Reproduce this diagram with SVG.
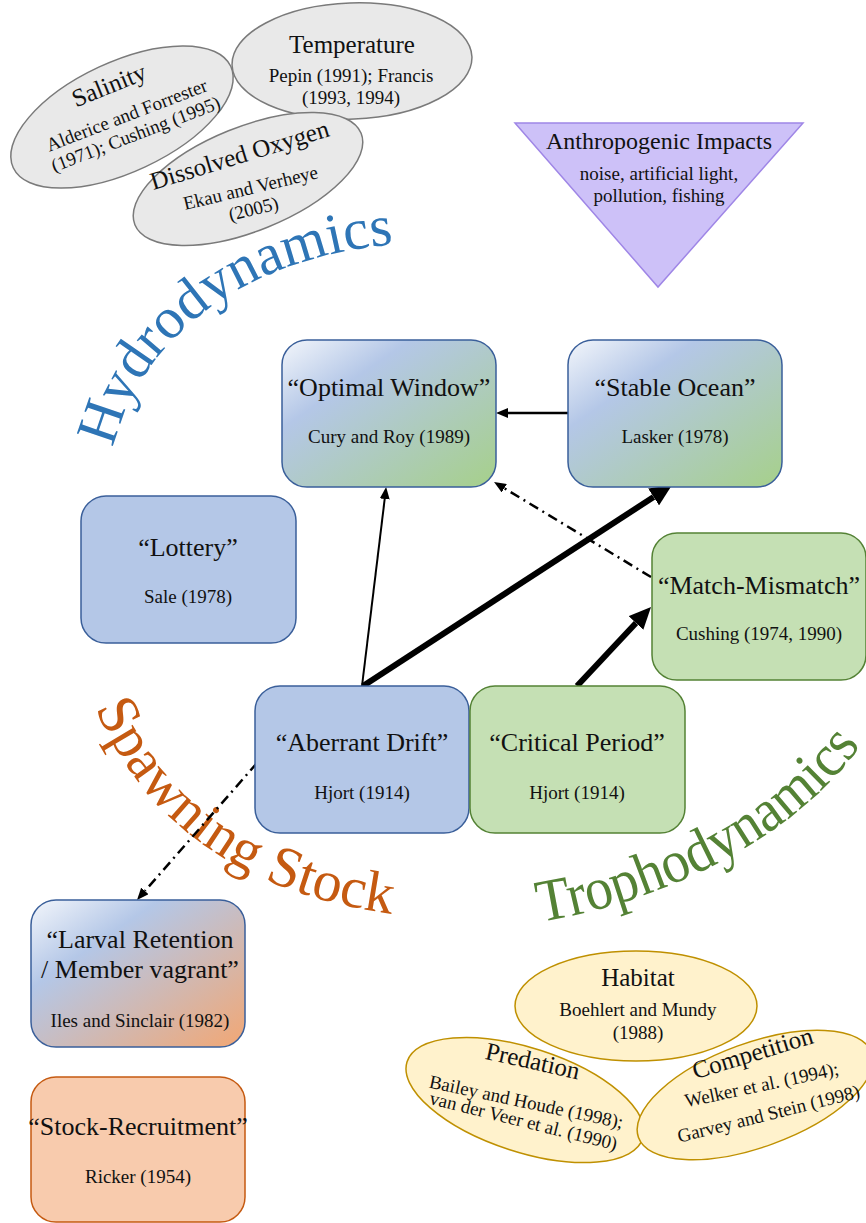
<svg xmlns="http://www.w3.org/2000/svg" width="866" height="1223" viewBox="0 0 866 1223" font-family="Liberation Serif, DejaVu Serif, serif">
<style>
text{font-family:'Liberation Serif','DejaVu Serif',serif;fill:#111;text-anchor:middle}
.t{font-size:26px}
.s{font-size:19px}
.et{font-size:25px}
.es{font-size:19px}
.grey{fill:#e9e9e9;stroke:#7a7a7a;stroke-width:1.5}
.yel{fill:#fff2cc;stroke:#bf9000;stroke-width:1.5}
.blue{fill:#b4c7e7;stroke:#3a5f9a;stroke-width:1.5}
.green{fill:#c5e0b4;stroke:#548235;stroke-width:1.5}
.orange{fill:#f8cbad;stroke:#c55a11;stroke-width:1.5}
.bg{fill:url(#gBG);stroke:#3a5f9a;stroke-width:1.5}
.bo{fill:url(#gBO);stroke:#3a5f9a;stroke-width:1.5}
.big{font-size:58px}
.c{fill:none;stroke:#000}
.dd{stroke-dasharray:10 5 2 5}
</style>
<defs>
<linearGradient id="gBG" x1="0" y1="0" x2="1" y2="1">
<stop offset="0" stop-color="#f3f6fb"/><stop offset="0.3" stop-color="#b4c7e7"/><stop offset="1" stop-color="#a6d08a"/>
</linearGradient>
<linearGradient id="gBO" x1="0" y1="0" x2="1" y2="1">
<stop offset="0" stop-color="#f3f6fb"/><stop offset="0.3" stop-color="#b4c7e7"/><stop offset="1" stop-color="#f2a774"/>
</linearGradient>
<marker id="ah" markerWidth="12" markerHeight="10" refX="0" refY="5" orient="auto" markerUnits="userSpaceOnUse"><path d="M0,0 L12,5 L0,10 z" fill="#000"/></marker>
<marker id="ahb" markerWidth="22" markerHeight="20" refX="0" refY="10" orient="auto" markerUnits="userSpaceOnUse"><path d="M0,0 L22,10 L0,20 z" fill="#000"/></marker>
<path id="pHydro" d="M 112 452 C 140 330, 255 255, 398 244"/>
<path id="pSpawn" d="M 92 700 C 140 820, 240 895, 400 915"/>
<path id="pTropho" d="M 538 922 C 650 905, 795 845, 868 735"/>
</defs>

<g id="salinity">
<ellipse class="grey" cx="122" cy="117" rx="120" ry="55" transform="rotate(-25 122 117)"/>
<text class="et" transform="translate(112,93) rotate(-22)">Salinity</text>
<text class="es" transform="translate(129,121) rotate(-21)">Alderice and Forrester</text>
<text class="es" transform="translate(138,140) rotate(-21)">(1971); Cushing (1995)</text>
</g>
<g id="temperature">
<ellipse class="grey" cx="352" cy="61" rx="120" ry="58" transform="rotate(-2 352 61)"/>
<text class="et" x="352" y="53">Temperature</text>
<text class="es" x="351" y="82">Pepin (1991); Francis</text>
<text class="es" x="351" y="104">(1993, 1994)</text>
</g>
<g id="dissolved-oxygen">
<ellipse class="grey" cx="248" cy="179" rx="122" ry="52" transform="rotate(-22 248 179)"/>
<text class="et" transform="translate(242,163) rotate(-17)">Dissolved Oxygen</text>
<text class="es" transform="translate(252,194) rotate(-13.5)">Ekau and Verheye</text>
<text class="es" transform="translate(255,215) rotate(-14)">(2005)</text>
</g>

<g id="anthropogenic">
<polygon points="515,123 803,123 658,287" fill="#cdc1f8" stroke="#9f86e6" stroke-width="1.5"/>
<text x="659" y="149" style="font-size:24px">Anthropogenic Impacts</text>
<text class="s" x="659" y="180">noise, artificial light,</text>
<text class="s" x="659" y="202">pollution, fishing</text>
</g>

<g id="hydrodynamics-label">
<text class="big" style="fill:#2e75b6"><textPath href="#pHydro" startOffset="50%">Hydrodynamics</textPath></text>
</g>
<g id="spawning-label">
<text class="big" style="fill:#c55a11"><textPath href="#pSpawn" startOffset="50%">Spawning Stock</textPath></text>
</g>
<g id="trophodynamics-label">
<text style="fill:#548235;font-size:60px;text-anchor:start"><textPath href="#pTropho" startOffset="2" textLength="375" lengthAdjust="spacingAndGlyphs">Trophodynamics</textPath></text>
</g>

<g id="connectors">
<line class="c" x1="568" y1="413" x2="508" y2="413" stroke-width="2.5" marker-end="url(#ah)"/>
<line class="c" x1="362" y1="686" x2="384.7" y2="499" stroke-width="2" marker-end="url(#ah)"/>
<line class="c" x1="363" y1="686" x2="653.6" y2="497" stroke-width="6" marker-end="url(#ahb)"/>
<line class="c" x1="577" y1="686" x2="636" y2="623" stroke-width="6" marker-end="url(#ahb)"/>
<line class="c dd" x1="651" y1="577" x2="504.3" y2="488.2" stroke-width="2.5" marker-end="url(#ah)"/>
<line class="c dd" x1="257" y1="763" x2="144.9" y2="891" stroke-width="2.5" marker-end="url(#ah)"/>
</g>

<g id="optimal-window">
<rect class="bg" x="282" y="340" width="214" height="147" rx="25"/>
<text class="t" x="389" y="396">“Optimal Window”</text>
<text class="s" x="389" y="443">Cury and Roy (1989)</text>
</g>
<g id="stable-ocean">
<rect class="bg" x="568" y="340" width="214" height="147" rx="25"/>
<text class="t" x="675" y="396">“Stable Ocean”</text>
<text class="s" x="675" y="443">Lasker (1978)</text>
</g>
<g id="lottery">
<rect class="blue" x="81" y="496" width="215" height="147" rx="25"/>
<text class="t" x="188" y="556">“Lottery”</text>
<text class="s" x="188" y="603">Sale (1978)</text>
</g>
<g id="match-mismatch">
<rect class="green" x="652" y="533" width="214" height="147" rx="25"/>
<text class="t" x="759" y="594">“Match-Mismatch”</text>
<text class="s" x="759" y="640">Cushing (1974, 1990)</text>
</g>
<g id="aberrant-drift">
<rect class="blue" x="255" y="686" width="214" height="147" rx="25"/>
<text class="t" x="362" y="751">“Aberrant Drift”</text>
<text class="s" x="362" y="799">Hjort (1914)</text>
</g>
<g id="critical-period">
<rect class="green" x="470" y="686" width="215" height="147" rx="25"/>
<text class="t" x="577" y="751">“Critical Period”</text>
<text class="s" x="577" y="799">Hjort (1914)</text>
</g>
<g id="larval-retention">
<rect class="bo" x="31" y="900" width="214" height="147" rx="25"/>
<text class="t" x="140" y="948">“Larval Retention</text>
<text class="t" x="140" y="978">/ Member vagrant”</text>
<text class="s" x="140" y="1027">Iles and Sinclair (1982)</text>
</g>
<g id="stock-recruitment">
<rect class="orange" x="31" y="1077" width="214" height="145" rx="25"/>
<text class="t" x="138" y="1135">“Stock-Recruitment”</text>
<text class="s" x="138" y="1183">Ricker (1954)</text>
</g>

<g id="habitat">
<ellipse class="yel" cx="636" cy="1006" rx="121" ry="55"/>
<text class="et" x="638" y="986">Habitat</text>
<text class="es" x="638" y="1016">Boehlert and Mundy</text>
<text class="es" x="638" y="1039">(1988)</text>
</g>
<g id="predation">
<ellipse class="yel" cx="525" cy="1100" rx="124" ry="52" transform="rotate(18 525 1100)"/>
<text class="et" transform="translate(531,1069) rotate(12.5)">Predation</text>
<text class="es" transform="translate(525,1108) rotate(12)">Bailey and Houde (1998);</text>
<text class="es" transform="translate(522,1127) rotate(14)">van der Veer et al. (1990)</text>
</g>
<g id="competition">
<ellipse class="yel" cx="755" cy="1095" rx="124" ry="52" transform="rotate(-20 755 1095)"/>
<text class="et" transform="translate(755,1061) rotate(-17)">Competition</text>
<text class="es" transform="translate(763,1091) rotate(-12)">Welker et al. (1994);</text>
<text class="es" transform="translate(770,1120) rotate(-14)">Garvey and Stein (1998)</text>
</g>
</svg>
